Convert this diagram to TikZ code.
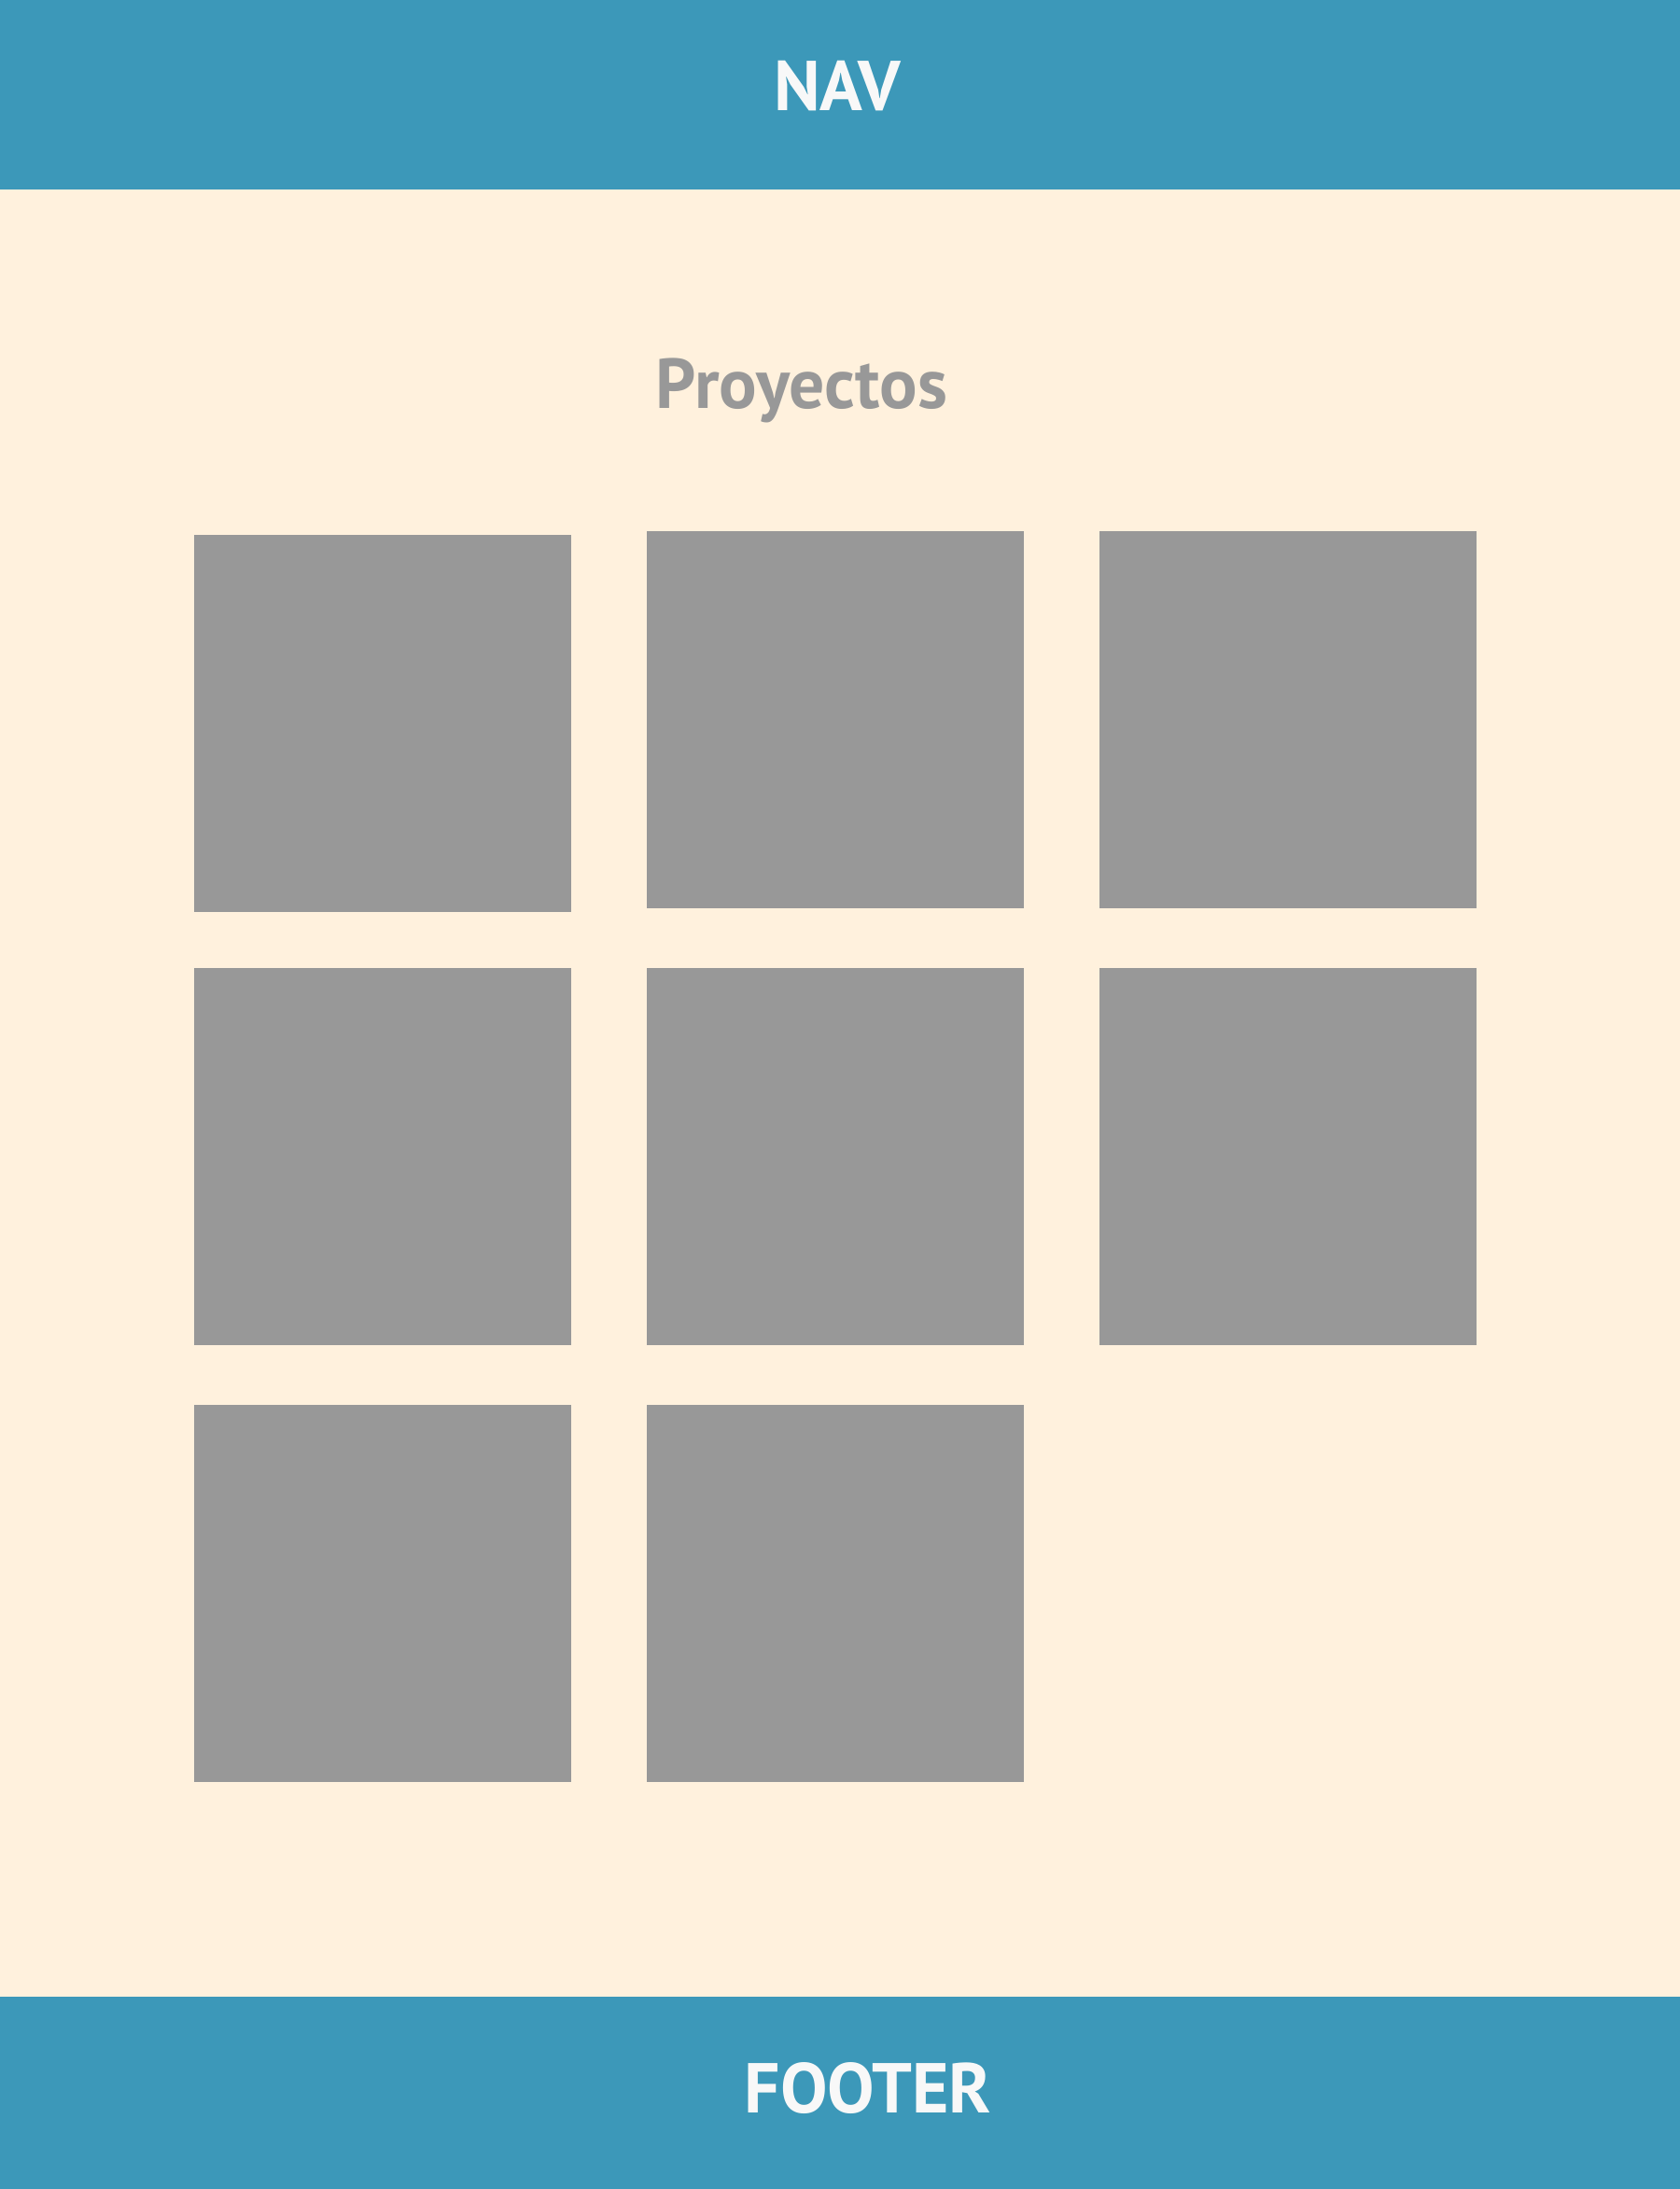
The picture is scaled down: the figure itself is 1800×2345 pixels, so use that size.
\documentclass[tikz,border=0pt]{standalone}
\usepackage{fontspec}
\setmainfont{PT Sans}
\definecolor{barblue}{HTML}{3C98B9}
\definecolor{cream}{HTML}{FFF1DD}
\definecolor{tilegray}{HTML}{989898}
\definecolor{offwhite}{HTML}{F8F8F8}
\begin{document}
\begin{tikzpicture}[x=0.01cm,y=-0.01cm,
  bar/.style={fill=barblue,draw=none},
  tile/.style={fill=tilegray,draw=none},
  bartext/.style={text=offwhite,font=\fontsize{21.5}{25}\selectfont\bfseries,anchor=base,inner sep=0pt},
  titletext/.style={text=tilegray,font=\fontsize{21.5}{25}\selectfont\bfseries,anchor=base,inner sep=0pt}]
\useasboundingbox (0,0) rectangle (1800,2345);
\fill[cream] (0,0) rectangle (1800,2345);
\fill[bar] (0,0) rectangle (1800,203);
\fill[bar] (0,2139) rectangle (1800,2345);
\node[bartext] (nav) at (897,118) {NAV};
\node[bartext] (footer) at (930,2263) {FOOTER};
\node[titletext] (title) at (859,437) {Proyectos};
\fill[tile] (208,573) rectangle (612,977);
\fill[tile] (693,569) rectangle (1097,973);
\fill[tile] (1178,569) rectangle (1582,973);
\fill[tile] (208,1037) rectangle (612,1441);
\fill[tile] (693,1037) rectangle (1097,1441);
\fill[tile] (1178,1037) rectangle (1582,1441);
\fill[tile] (208,1505) rectangle (612,1909);
\fill[tile] (693,1505) rectangle (1097,1909);
\end{tikzpicture}
\end{document}
